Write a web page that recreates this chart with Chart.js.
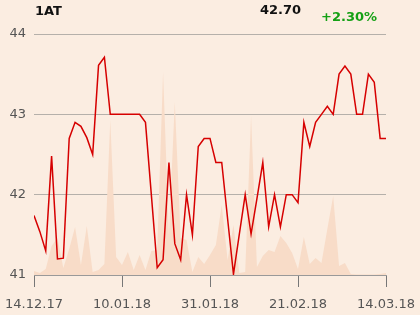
<!DOCTYPE html>
<html>
<head>
<meta charset="utf-8">
<script src="https://cdn.jsdelivr.net/npm/chart.js@4"></script>
<style>
  body { margin: 0; background: #fbede1; font-family: "DejaVu Sans", sans-serif; }
  #wrap { position: relative; width: 420px; height: 315px; }
  .hdr { position: absolute; font-weight: bold; font-size: 13px; line-height: 13px; color: #111; }
</style>
</head>
<body>
<div id="wrap">
  <canvas id="chart" width="420" height="315"></canvas>
  <div class="hdr" style="left:35px; top:4px;">1AT</div>
  <div class="hdr" style="left:260px; top:3px;">42.70</div>
  <div class="hdr" style="left:321px; top:10px; color:#14a014;">+2.30%</div>
</div>
<script>
// price per trading day (61 days)
const preis = [
  41.74, 41.54, 41.30, 42.48, 41.20, 41.21, 42.70, 42.90, 42.85, 42.71,
  42.50, 43.61, 43.71, 43.00, 43.00, 43.00, 43.00, 43.00, 43.00, 42.90,
  42.00, 41.09, 41.19, 42.40, 41.39, 41.19, 42.00, 41.50, 42.60, 42.70,
  42.70, 42.40, 42.40, 41.70, 41.01, 41.51, 42.00, 41.51, 41.95, 42.40,
  41.60, 42.00, 41.60, 42.00, 42.00, 41.90, 42.90, 42.60, 42.90, 43.00,
  43.10, 43.00, 43.50, 43.60, 43.50, 43.00, 43.00, 43.50, 43.40, 42.70,
  42.70
];
// volume (arbitrary units)
const volumen = [
  4, 2, 6, 29, 37, 7, 26, 48, 10, 49,
  3, 5, 11, 155, 18, 10, 23, 5, 20, 5,
  24, 25, 203, 40, 173, 37, 35, 3, 18, 11,
  20, 30, 70, 15, 50, 2, 3, 159, 8, 19,
  25, 23, 39, 32, 22, 6, 38, 11, 17, 12,
  46, 79, 9, 12, 1, 0.5, 0.5, 0.5, 0.5, 1,
  2
];
const xLabels = ['14.12.17', '10.01.18', '31.01.18', '21.02.18', '14.03.18'];
const yTicks = [41, 42, 43, 44];

const bgPlugin = {
  id: 'bg',
  beforeDraw(chart) {
    const c = chart.ctx;
    c.save();
    c.fillStyle = '#fbede1';
    c.fillRect(0, 0, chart.width, chart.height);
    c.restore();
  }
};

new Chart(document.getElementById('chart'), {
  type: 'line',
  data: {
    datasets: [
      {
        label: 'Kurs',
        data: preis.map((v, i) => ({ x: i, y: v })),
        borderColor: '#d60000',
        borderWidth: 1.5,
        pointRadius: 0,
        tension: 0,
        fill: false,
        yAxisID: 'y',
        order: 1
      },
      {
        label: 'Volumen',
        data: volumen.map((v, i) => ({ x: i, y: v })),
        backgroundColor: '#f8dcc8',
        borderWidth: 0,
        pointRadius: 0,
        tension: 0,
        fill: 'origin',
        yAxisID: 'vol',
        order: 2
      }
    ]
  },
  options: {
    responsive: false,
    animation: false,
    layout: { padding: { top: 34, right: 34, left: 0, bottom: 0 } },
    plugins: { legend: { display: false }, tooltip: { enabled: false } },
    scales: {
      x: {
        type: 'linear',
        min: 0,
        max: preis.length - 1,
        afterBuildTicks: (s) => { s.ticks = xLabels.map((l, k) => ({ value: k * 15 })); },
        ticks: {
          callback: (v) => xLabels[v / 15],
          color: '#555',
          font: { family: 'DejaVu Sans', size: 13 },
          padding: 10,
          maxRotation: 0,
          autoSkip: false
        },
        grid: { drawOnChartArea: false, drawTicks: true, tickLength: 12, color: '#777' },
        border: { color: '#999', width: 1 },
        afterFit: (s) => { s.height = 40; s.paddingLeft = 0; s.paddingRight = 0; }
      },
      y: {
        min: 41,
        max: 44,
        afterBuildTicks: (s) => { s.ticks = yTicks.map(v => ({ value: v })); },
        ticks: {
          color: '#555',
          font: { family: 'DejaVu Sans', size: 13 },
          padding: 8
        },
        grid: { color: '#b5b0aa', drawTicks: false },
        border: { display: false },
        afterFit: (s) => { s.width = 34; }
      },
      vol: {
        display: false,
        min: 0,
        max: 241
      }
    }
  },
  plugins: [bgPlugin]
});
</script>
</body>
</html>
